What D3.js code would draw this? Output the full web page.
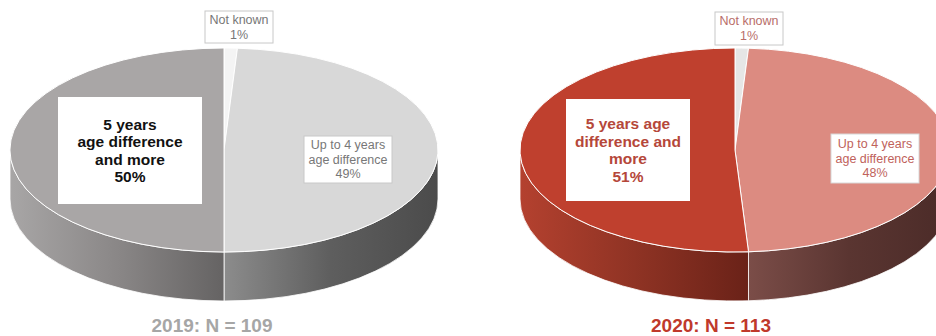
<!DOCTYPE html>
<html><head><meta charset="utf-8">
<script src="https://cdn.jsdelivr.net/npm/d3@7"></script>
<style>body{margin:0;background:#fff}svg{display:block}text{font-family:"Liberation Sans",Arial,sans-serif}</style>
</head><body><svg id="c" width="936" height="336"></svg>
<script>
const categories = ["Not known", "Up to 4 years age difference", "5 years age difference and more"];
const values2019 = [1, 49, 50];
const values2020 = [1, 48, 51];
const labels2019 = [["Not known","1%"],["Up to 4 years","age difference","49%"],["5 years","age difference","and more","50%"]];
const labels2020 = [["Not known","1%"],["Up to 4 years","age difference","48%"],["5 years age","difference and","more","51%"]];
const titles = ["2019: N = 109", "2020: N = 113"];

const svg = d3.select("#c");
const defs = svg.append("defs");

const charts = [
  {vals: values2019, labels: labels2019, title: titles[0], cx: 224, cy: 150, rx: 214, ry: 102, depth: 49,
   top: ["#f4f4f4", "#d8d8d8", "#a9a6a6"],
   side: [["#ddd","#ccc"], ["#8c8c8c","#5e5e5e","#4b4b4b"], ["#a8a6a6","#8a8787","#656363"]],
   titleColor: "#a6a6a6", titleX: 212,
   boxes: [{x:205,y:11,w:68,h:32,size:12.5,color:"#777",bold:false,stroke:"#c8c8c8",lh:15},
           {x:304,y:136,w:88,h:47,size:12.5,color:"#777",bold:false,stroke:"#c8c8c8",lh:14.5},
           {x:58,y:97,w:144,h:107,size:15.5,color:"#111",bold:true,stroke:"none",lh:17.5}]},
  {vals: values2020, labels: labels2020, title: titles[1], cx: 735, cy: 150, rx: 215, ry: 102, depth: 49,
   top: ["#e6e6e6", "#dc8b81", "#bf402e"],
   side: [["#ccc","#bbb"], ["#7b4d48","#5a3531","#4b2b28"], ["#b4412f","#8f3324","#6a2218"]],
   titleColor: "#c0392b", titleX: 711,
   boxes: [{x:715,y:12,w:68,h:33,size:12.5,color:"#b86e6a",bold:false,stroke:"#c8c8c8",lh:15},
           {x:831,y:134,w:88,h:49,size:12.5,color:"#c0625b",bold:false,stroke:"#d8d8d8",lh:14.5},
           {x:566,y:99,w:124,h:102,size:15.5,color:"#b5473a",bold:true,stroke:"none",lh:17.5}]}
];

charts.forEach((c, ci) => {
  const pie = d3.pie().sort(null).value(d => d);
  const arcsData = pie(c.vals);
  const g = svg.append("g");
  const pt = (a, dy=0) => [c.cx + c.rx*Math.sin(a), c.cy - c.ry*Math.cos(a) + dy];

  arcsData.forEach((d, i) => {
    const grad = defs.append("linearGradient").attr("id", `g${ci}_${i}`)
      .attr("gradientUnits","userSpaceOnUse");
    const a0 = Math.max(d.startAngle, Math.PI/2), a1 = Math.min(d.endAngle, 3*Math.PI/2);
    const xs = [pt(a0)[0], pt(a1)[0]];
    grad.attr("x1", d3.min(xs)).attr("x2", d3.max(xs)).attr("y1",0).attr("y2",0);
    const stops = c.side[i];
    stops.forEach((col, k) => grad.append("stop").attr("offset", k/(stops.length-1)).attr("stop-color", col));
  });

  arcsData.forEach((d, i) => {
    const a0 = Math.max(d.startAngle, Math.PI/2), a1 = Math.min(d.endAngle, 3*Math.PI/2);
    if (a1 <= a0) return;
    const p0 = pt(a0), p1 = pt(a1), q1 = pt(a1, c.depth), q0 = pt(a0, c.depth);
    const large = (a1 - a0) > Math.PI ? 1 : 0;
    const p = `M${p0} A${c.rx},${c.ry} 0 ${large} 1 ${p1} L${q1} A${c.rx},${c.ry} 0 ${large} 0 ${q0} Z`;
    g.append("path").attr("d", p).attr("fill", `url(#g${ci}_${i})`)
      .attr("stroke", "#fff").attr("stroke-width", 0.8).attr("stroke-linejoin","round");
  });

  const arc = d3.arc().innerRadius(0).outerRadius(c.rx);
  const tg = g.append("g").attr("transform", `translate(${c.cx},${c.cy}) scale(1,${c.ry/c.rx})`);
  tg.selectAll("path").data(arcsData).join("path")
    .attr("d", arc)
    .attr("fill", (d, i) => c.top[i])
    .attr("stroke", "#fff").attr("stroke-width", 1)
    .attr("vector-effect", "non-scaling-stroke");

  c.boxes.forEach((b, i) => {
    g.append("rect").attr("x", b.x).attr("y", b.y).attr("width", b.w).attr("height", b.h)
      .attr("fill", "#fff").attr("stroke", b.stroke).attr("stroke-width", 1);
    const lines = c.labels[i];
    const midY = b.y + b.h/2;
    const t = g.append("text").attr("text-anchor","middle")
      .attr("font-size", b.size).attr("font-weight", b.bold ? "bold" : "normal").attr("fill", b.color);
    lines.forEach((ln, k) => {
      t.append("tspan").attr("x", b.x + b.w/2)
        .attr("y", midY + (k - (lines.length-1)/2)*b.lh + b.size*0.35).text(ln);
    });
  });

  g.append("text").attr("x", c.titleX).attr("y", 332).attr("text-anchor","middle")
    .attr("font-size", 19).attr("font-weight","bold").attr("fill", c.titleColor).text(c.title);
});
</script></body></html>
